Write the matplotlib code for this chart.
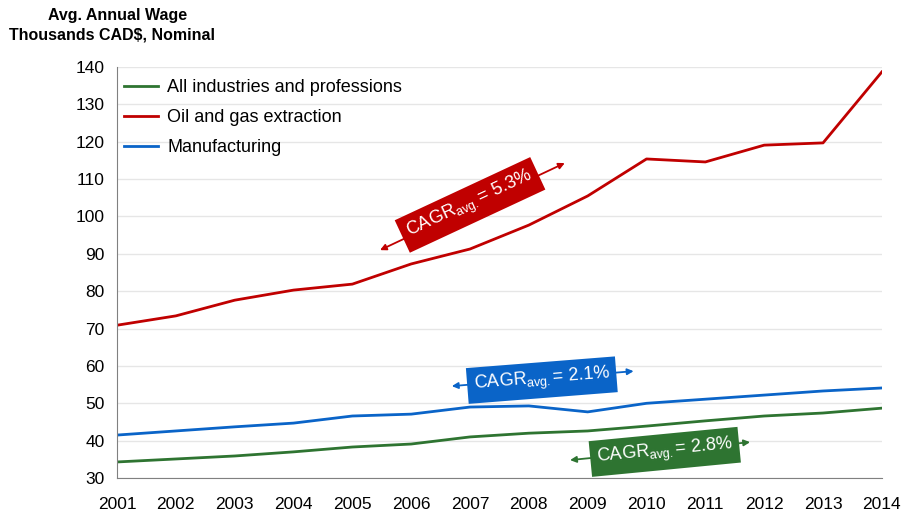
import numpy as np
import matplotlib
matplotlib.use("Agg")
import matplotlib.pyplot as plt

plt.rcParams['font.family'] = ['Liberation Sans', 'DejaVu Sans']

years = list(range(2001, 2015))
all_ind = [34.3, 35.1, 35.9, 37.0, 38.3, 39.1, 41.0, 42.0, 42.6, 43.9, 45.3, 46.6, 47.4, 48.7]
oil_gas = [70.9, 73.4, 77.6, 80.3, 81.9, 87.3, 91.3, 97.7, 105.5, 115.4, 114.6, 119.1, 119.7, 138.7]
manuf = [41.5, 42.6, 43.7, 44.7, 46.6, 47.1, 49.0, 49.3, 47.7, 50.0, 51.1, 52.2, 53.3, 54.1]

c_green = "#2E7431"
c_red = "#C00000"
c_blue = "#0A64C8"

fig = plt.figure(figsize=(9.03, 5.15), dpi=100)
ax = fig.add_axes([0.1296, 0.0718, 0.847, 0.798])

ax.plot(years, all_ind, color=c_green, lw=2, label="All industries and professions")
ax.plot(years, oil_gas, color=c_red, lw=2, label="Oil and gas extraction")
ax.plot(years, manuf, color=c_blue, lw=2, label="Manufacturing")

ax.set_xlim(2001, 2014)
ax.set_ylim(30, 140)
ax.set_xticks(years)
ax.set_yticks(np.arange(30, 141, 10))
ax.tick_params(axis='both', labelsize=12.5, length=0)
ax.tick_params(axis='x', pad=14)
ax.tick_params(axis='y', pad=9)
ax.grid(axis='y', color='#E6E6E6', lw=1)
ax.set_axisbelow(True)
for s in ['top', 'right']:
    ax.spines[s].set_visible(False)
for s in ['left', 'bottom']:
    ax.spines[s].set_color('#808080')

ax.legend(loc='upper left', frameon=False, fontsize=13, handlelength=1.9,
          bbox_to_anchor=(-0.012, 1.01), labelspacing=0.72, handletextpad=0.5)

fig.text(0.13, 0.97, "Avg. Annual Wage", ha='center', va='center',
         fontsize=11.5, fontweight='bold')
fig.text(0.010, 0.932, "Thousands CAD$, Nominal", ha='left', va='center',
         fontsize=11.5, fontweight='bold')

# CAGR annotations: (arrow start, arrow end, label centre, angle, colour, text)
notes = [
    ((2005.47, 91.0), (2008.61, 114.3), (2007.0, 103.1), 25, c_red, "5.3%"),
    ((2006.69, 54.6), (2009.78, 58.6), (2008.22, 56.2), 4.5, c_blue, "2.1%"),
    ((2008.70, 34.8), (2011.76, 39.6), (2010.31, 37.0), 5.5, c_green, "2.8%"),
]
for start, end, centre, ang, col, pct in notes:
    ax.annotate("", xy=start, xytext=end,
                arrowprops=dict(arrowstyle='<|-|>', color=col, lw=1.3,
                                mutation_scale=9, shrinkA=0, shrinkB=0))
    ax.text(centre[0], centre[1], r"CAGR$_{\mathregular{avg.}}$= " + pct,
            color='white', fontsize=13, ha='center', va='center', rotation=ang,
            rotation_mode='anchor',
            bbox=dict(boxstyle='square,pad=0.35', fc=col, ec='none'))

fig.savefig("out.png", dpi=100)
